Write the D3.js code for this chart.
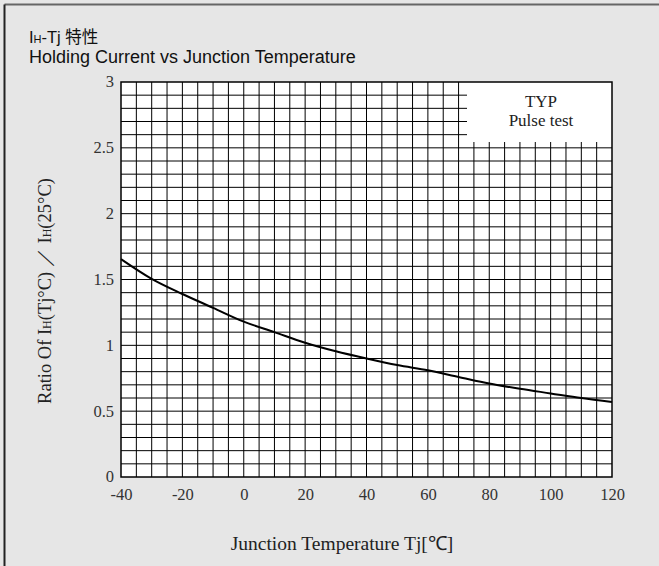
<!DOCTYPE html>
<html><head><meta charset="utf-8">
<script src="https://cdn.jsdelivr.net/npm/d3@7"></script>
<style>html,body{margin:0;padding:0;background:#e6e6e6;}svg{display:block;}</style>
</head><body>
<script>
const temps = [-40, -30, -20, -10, 0, 10, 20, 30, 40, 50, 60, 70, 80, 90, 100, 110, 120];
const ratios = [1.655, 1.505, 1.39, 1.285, 1.18, 1.10, 1.02, 0.955, 0.90, 0.85, 0.81, 0.76, 0.71, 0.67, 0.635, 0.60, 0.57];
const xTicks = [-40, -20, 0, 20, 40, 60, 80, 100, 120];
const xTickLabels = ["-40", "-20", "0", "20", "40", "60", "80", "100", "120"];
const yTicks = [0, 0.5, 1, 1.5, 2, 2.5, 3];
const yTickLabels = ["0", "0.5", "1", "1.5", "2", "2.5", "3"];
const titleLine2 = "Holding Current vs Junction Temperature";
const xLabel = "Junction Temperature Tj[℃]";
const legendLines = ["TYP", "Pulse test"];

const W = 659, H = 566;
const L = 121, R = 612, T = 82, B = 477;
const svg = d3.select("body").append("svg").attr("width", W).attr("height", H);
svg.append("rect").attr("width", W).attr("height", H).attr("fill", "#e6e6e6");
svg.append("line").attr("x1", 4.5).attr("x2", W).attr("y1", 4.5).attr("y2", 4.5).attr("stroke", "#666").attr("stroke-width", 2);
svg.append("line").attr("x1", 4.5).attr("x2", 4.5).attr("y1", 4.5).attr("y2", H).attr("stroke", "#222").attr("stroke-width", 2);

const x = d3.scaleLinear().domain([-40, 120]).range([L, R]);
const y = d3.scaleLinear().domain([0, 3]).range([B, T]);

svg.append("rect").attr("x", L).attr("y", T).attr("width", R - L).attr("height", B - T).attr("fill", "#fff");

const g = svg.append("g");
const vx = d3.range(-35, 120, 5);
g.selectAll(".vg").data(vx).join("line")
  .attr("x1", d => x(d)).attr("x2", d => x(d)).attr("y1", T).attr("y2", B)
  .attr("stroke", "#000").attr("stroke-width", 1);
const hy = d3.range(1, 30).map(i => i / 10);
g.selectAll(".hg").data(hy).join("line")
  .attr("x1", L).attr("x2", R).attr("y1", d => y(d)).attr("y2", d => y(d))
  .attr("stroke", "#000").attr("stroke-width", 1);

// legend box
svg.append("rect").attr("x", 467).attr("y", T).attr("width", R - 467).attr("height", 142 - T).attr("fill", "#fff");
svg.selectAll(".lg").data(legendLines).join("text")
  .attr("x", 541).attr("y", (d, i) => 107 + i * 19)
  .attr("text-anchor", "middle").attr("font-family", "Liberation Serif, serif")
  .attr("font-size", 17).attr("fill", "#222").text(d => d);

// curve
const line = d3.line().x((d, i) => x(temps[i])).y(d => y(d)).curve(d3.curveMonotoneX);
svg.append("path").datum(ratios).attr("d", line).attr("fill", "none")
  .attr("stroke", "#000").attr("stroke-width", 2);

// frame
svg.append("rect").attr("x", L).attr("y", T).attr("width", R - L).attr("height", B - T)
  .attr("fill", "none").attr("stroke", "#000").attr("stroke-width", 1.5);

// axes labels
const xAxis = d3.axisBottom(x).tickValues(xTicks).tickSize(0).tickPadding(0).tickFormat((d, i) => xTickLabels[i]);
const xa = svg.append("g").attr("transform", `translate(0,${B})`).call(xAxis);
xa.select(".domain").remove();
xa.selectAll("text").attr("dy", null).attr("y", 23).attr("font-family", "Liberation Serif, serif").attr("font-size", 16.5).attr("fill", "#333");

const yAxis = d3.axisLeft(y).tickValues(yTicks).tickSize(0).tickPadding(0).tickFormat((d, i) => yTickLabels[i]);
const ya = svg.append("g").attr("transform", `translate(${L - 7},0)`).call(yAxis);
ya.select(".domain").remove();
ya.selectAll("text").attr("dy", "0.3em").attr("y", 0).attr("font-family", "Liberation Serif, serif").attr("font-size", 16.5).attr("fill", "#333");

svg.append("text").attr("x", 342).attr("y", 550).attr("text-anchor", "middle")
  .attr("font-family", "Liberation Serif, serif").attr("font-size", 19.5).attr("fill", "#222").text(xLabel);

const yl = svg.append("text").attr("transform", "translate(51,291) rotate(-90)").attr("text-anchor", "middle")
  .attr("font-family", "Liberation Serif, serif").attr("font-size", 18.5).attr("fill", "#222");
yl.append("tspan").text("Ratio Of I");
yl.append("tspan").attr("font-size", 12).text("H");
yl.append("tspan").text("(Tj°C)  ／  I");
yl.append("tspan").attr("font-size", 12).text("H");
yl.append("tspan").text("(25°C)");

const t1 = svg.append("text").attr("x", 29).attr("y", 43).attr("font-family", "Liberation Sans, 'Noto Sans CJK JP', sans-serif").attr("font-size", 16.5).attr("fill", "#111");
t1.append("tspan").text("I");
t1.append("tspan").attr("font-size", 11).text("H");
t1.append("tspan").text("-Tj 特性");
svg.append("text").attr("x", 29).attr("y", 63).attr("font-family", "Liberation Sans, sans-serif").attr("font-size", 18).attr("fill", "#111").text(titleLine2);
</script>
</body></html>
